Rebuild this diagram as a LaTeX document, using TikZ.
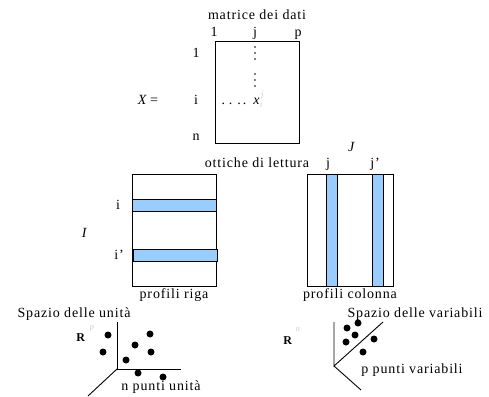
\documentclass[tikz,border=0pt]{standalone}
\usepackage{fontspec}
\setmainfont[LetterSpace=6]{Liberation Serif}
\usetikzlibrary{positioning}
\definecolor{barblue}{RGB}{153,204,255}
\definecolor{faint}{RGB}{200,200,200}

\begin{document}
\begin{tikzpicture}[
    x=1pt, y=-1pt,
    every node/.style={font=\fontsize{14}{16}\selectfont, inner sep=0pt},
    lbl/.style={anchor=base},
    box/.style={draw, rectangle, line width=1pt},
    bar/.style={draw, rectangle, fill=barblue, line width=1pt},
    pt/.style={circle, fill=black, minimum size=7pt},
    axis/.style={line width=0.9pt}
]
\useasboundingbox (0,0) rectangle (489,396);

% Data matrix
\node[box, minimum width=84pt, minimum height=101pt] (X) at (257,92.5) {};
\node[lbl] (title) at (257,20) {matrice dei dati};
\node[lbl] (c1) at (214,37) {1};
\node[lbl] (cj) at (255,37) {j};
\node[lbl] (cp) at (298,37) {p};
\node[lbl] (r1) at (196,57) {1};
\node[lbl] (ri) at (196,104) {i};
\node[lbl] (rn) at (196,140) {n};
\node[lbl] (Xeq) at (148,104) {\textit{X}\,=};
% column of dots down to x_ij
\fill (255,47) circle (0.8) (255,53) circle (0.8) (255,59) circle (0.8)
      (255,74) circle (0.8) (255,80) circle (0.8) (255,86) circle (0.8);
\node[lbl] (hd) at (234,104) {.\hspace{4pt}.\hspace{5pt}.\hspace{2pt}.};
\node[lbl] (xij) at (259,104) {$\textit{x}^{\textcolor{faint}{j}}_{\textcolor{faint}{i}}$};

% Reading optics
\node[lbl] (ottiche) at (257,167) {ottiche di lettura};

% Row profiles
\node[box, minimum width=84pt, minimum height=112pt] (riga) at (174,230) {};
\node[bar, minimum width=84pt, minimum height=12pt] (bari) at (174,205) {};
\node[bar, minimum width=84pt, minimum height=12pt] (barii) at (175,255) {};
\node (li) at (118,205) {i};
\node (lii) at (119,255) {i'};
\node (lI) at (85,233) {\textit{I}};
\node[below=2pt of riga] (rigalbl) {profili riga};

% Column profiles
\node[box, minimum width=86pt, minimum height=112pt] (colonna) at (350,230) {};
\node[bar, minimum width=11pt, minimum height=112pt] (barj) at (331.5,230) {};
\node[bar, minimum width=11pt, minimum height=112pt] (barjj) at (377.5,230) {};
\node[lbl] (lj) at (328,167) {j};
\node[lbl] (ljj) at (375,167) {j'};
\node[lbl] (lJ) at (352,151) {\textit{J}};
\node[below=2pt of colonna] (collbl) {profili colonna};

% Space of units
\node[lbl] (unita) at (74,317) {Spazio delle unità};
\coordinate (o1) at (117,369);
\coordinate (o1y) at (117,322);
\coordinate (o1x) at (181,369);
\coordinate (o1z) at (88,396);
\draw[axis] (o1y) -- (o1) -- (o1x);
\draw[axis] (o1) -- (o1z);
\node (Rp) at (81,338) {\fontsize{12}{14}\selectfont\textbf{R}};
\node (supp) at (92,328) {\fontsize{8}{9}\selectfont\color{faint}\textit{p}};
\node[pt] (u1) at (108,335) {};
\node[pt] (u2) at (103,352) {};
\node[pt] (u3) at (150,334) {};
\node[pt] (u4) at (135,345) {};
\node[pt] (u5) at (151,352) {};
\node[pt] (u6) at (126,360) {};
\node[pt] (u7) at (138,373) {};
\node[pt] (u8) at (163,377) {};
\node[lbl] (npunti) at (161,390) {n punti unità};

% Space of variables
\node[lbl] (variabili) at (415,317) {Spazio delle variabili};
\coordinate (o2) at (334,366);
\coordinate (o2y) at (334,322);
\coordinate (o2x) at (383,322);
\coordinate (o2z) at (361,390);
\draw[axis] (o2y) -- (o2) -- (o2x);
\draw[axis] (o2) -- (o2z);
\node (Rn) at (288,341) {\fontsize{12}{14}\selectfont\textbf{R}};
\node (supn) at (298,330) {\fontsize{8}{9}\selectfont\color{faint}\textit{n}};
\node[pt] (v1) at (347,328) {};
\node[pt] (v2) at (358,323) {};
\node[pt] (v3) at (355,335) {};
\node[pt] (v4) at (346,342) {};
\node[pt] (v5) at (374,339) {};
\node[pt] (v6) at (363,352) {};
\node[lbl] (ppunti) at (412,373) {p punti variabili};

\end{tikzpicture}
\end{document}
